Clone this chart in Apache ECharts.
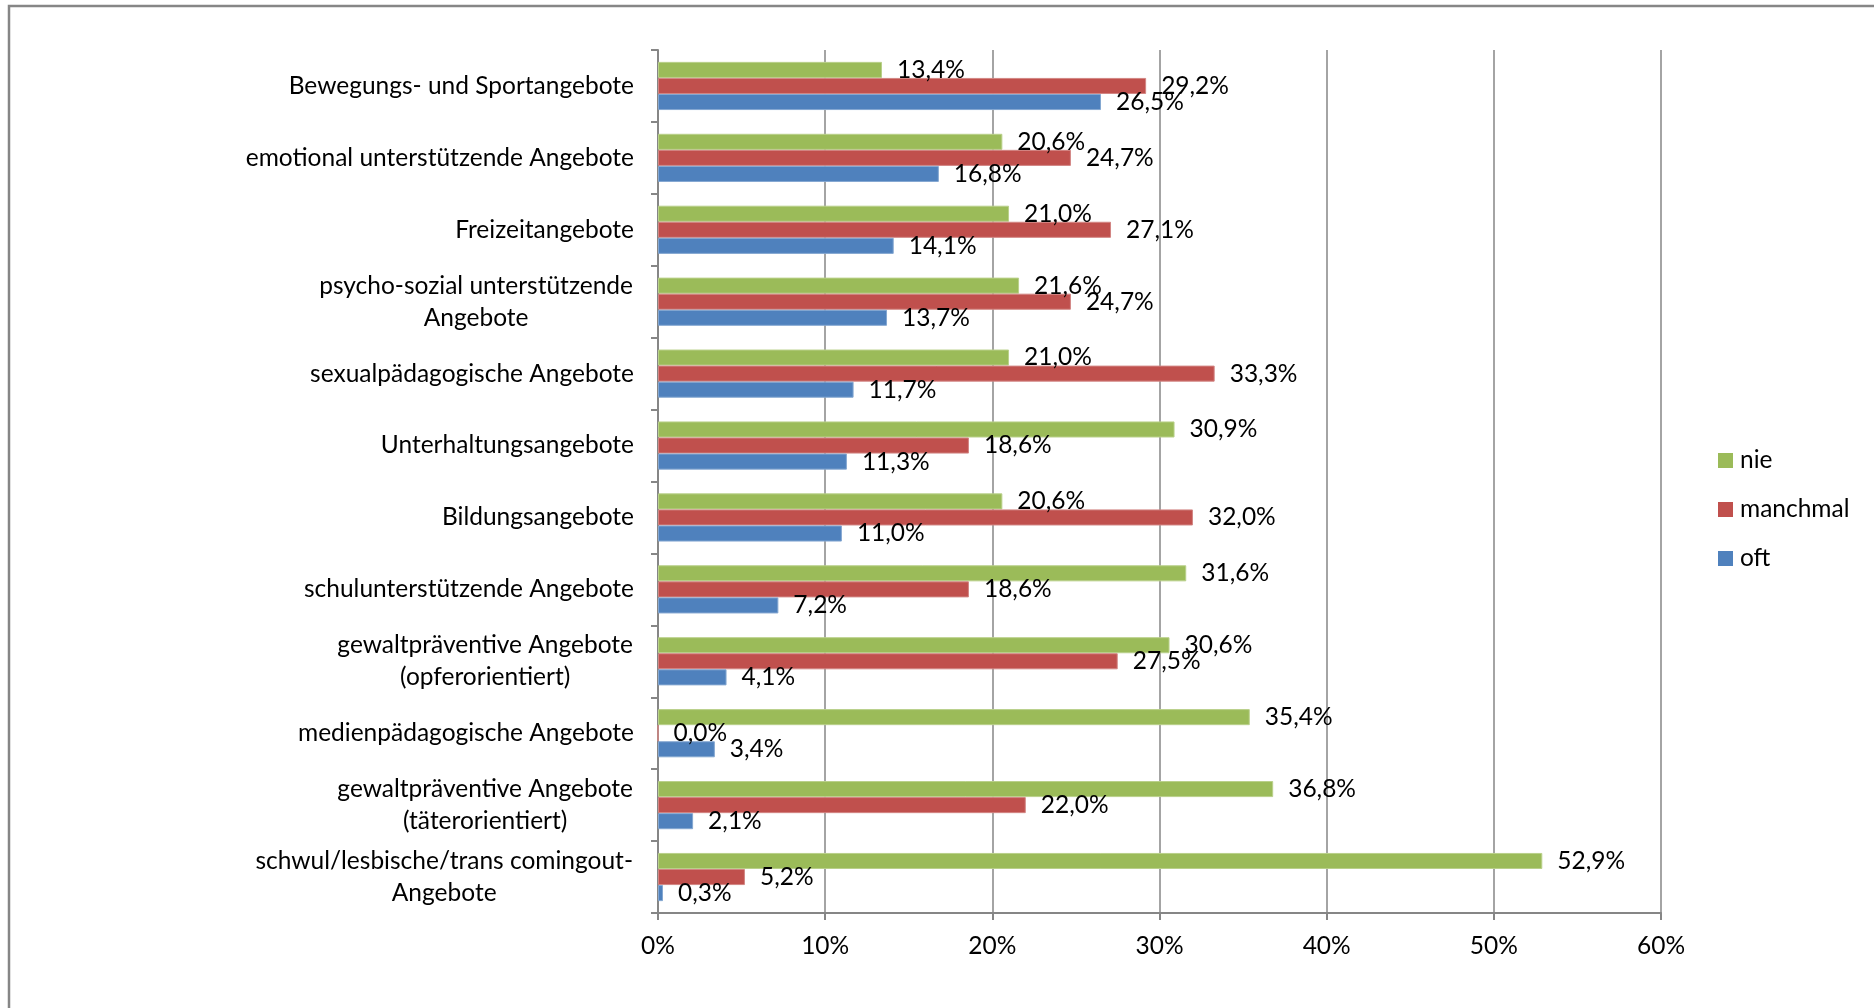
<!DOCTYPE html>
<html>
<head>
<meta charset="utf-8">
<script src="https://cdn.jsdelivr.net/npm/echarts@6/dist/echarts.min.js"></script>
<style>
  html, body { margin: 0; padding: 0; background: #fff; }
  #chart { width: 1874px; height: 1008px; }
</style>
</head>
<body>
<div id="chart"></div>
<script>
// categories top -> bottom
const categories = [
  'Bewegungs- und Sportangebote',
  'emotional unterstützende Angebote',
  'Freizeitangebote',
  'psycho-sozial unterstützende\nAngebote',
  'sexualpädagogische Angebote',
  'Unterhaltungsangebote',
  'Bildungsangebote',
  'schulunterstützende Angebote',
  'gewaltpräventive Angebote\n(opferorientiert)',
  'medienpädagogische Angebote',
  'gewaltpräventive Angebote\n(täterorientiert)',
  'schwul/lesbische/trans comingout-\nAngebote'
]
const nie = [13.4, 20.6, 21.0, 21.6, 21.0, 30.9, 20.6, 31.6, 30.6, 35.4, 36.8, 52.9]
const manchmal = [29.2, 24.7, 27.1, 24.7, 33.3, 18.6, 32.0, 18.6, 27.5, 0.0, 22.0, 5.2]
const oft = [26.5, 16.8, 14.1, 13.7, 11.7, 11.3, 11.0, 7.2, 4.1, 3.4, 2.1, 0.3]
const seriesNames = ['nie', 'manchmal', 'oft']

const FONT = 'Lato'
const FS = 24.5
const GREY = '#868686'

// measure text so multi-line labels can be centred line by line
const ctx = document.createElement('canvas').getContext('2d')
function textWidth(s) {
  ctx.font = FS + 'px ' + FONT
  return ctx.measureText(s).width
}

const rich = {}
categories.forEach((c, i) => {
  if (c.includes('\n')) {
    const w = Math.max(...c.split('\n').map(textWidth)) + 2
    rich['c' + i] = { width: w, align: 'center', fontSize: FS, fontFamily: FONT, color: '#000', lineHeight: 32 }
  }
})

const pct = v => v.toFixed(1).replace('.', ',') + '%'

function makeSeries(name, data, color, border) {
  return {
    name,
    type: 'bar',
    data,
    barGap: 0,
    barCategoryGap: '33%',
    itemStyle: { color, borderColor: border, borderWidth: 1 },
    label: {
      show: true,
      position: 'right',
      distance: 15,
      formatter: p => pct(p.value),
      fontFamily: FONT,
      fontSize: FS,
      color: '#000'
    }
  }
}

const chart = echarts.init(document.getElementById('chart'))
chart.setOption({
  animation: false,
  backgroundColor: '#fff',
  textStyle: { fontFamily: FONT },
  graphic: [{
    type: 'rect',
    silent: true,
    z: -1,
    shape: { x: 9, y: 6, width: 2000, height: 1200 },
    style: { fill: null, stroke: GREY, lineWidth: 2.5 }
  }],
  grid: { left: 658, right: 213, top: 50, bottom: 95, containLabel: false },
  legend: {
    orient: 'vertical',
    left: 1713,
    top: 443,
    itemWidth: 15,
    itemHeight: 15,
    itemGap: 24,
    itemStyle: { borderWidth: 0 },
    icon: 'rect',
    textStyle: { fontFamily: FONT, fontSize: FS, color: '#000', padding: [0, 0, 0, 2] },
    data: seriesNames
  },
  xAxis: {
    type: 'value',
    min: 0,
    max: 60,
    interval: 10,
    axisLine: { show: true, lineStyle: { color: GREY, width: 2 } },
    axisTick: { show: true, length: 7, lineStyle: { color: GREY, width: 2 } },
    splitLine: { show: true, lineStyle: { color: GREY, width: 1.5 } },
    axisLabel: { formatter: '{value}%', fontFamily: FONT, fontSize: FS, color: '#000', margin: 21 }
  },
  yAxis: {
    type: 'category',
    inverse: true,
    data: categories,
    axisLine: { show: true, lineStyle: { color: GREY, width: 2 } },
    axisTick: { show: true, length: 7, lineStyle: { color: GREY, width: 2 } },
    axisLabel: {
      margin: 24,
      fontFamily: FONT,
      fontSize: FS,
      color: '#000',
      lineHeight: 32,
      formatter: (v, i) => v.includes('\n') ? v.split('\n').map(l => '{c' + i + '|' + l + '}').join('\n') : v,
      rich
    }
  },
  series: [
    makeSeries('nie', nie, '#9BBB59', '#B9D08A'),
    makeSeries('manchmal', manchmal, '#C0504D', '#D28583'),
    makeSeries('oft', oft, '#4F81BD', '#84A7D1')
  ]
})
</script>
</body>
</html>
